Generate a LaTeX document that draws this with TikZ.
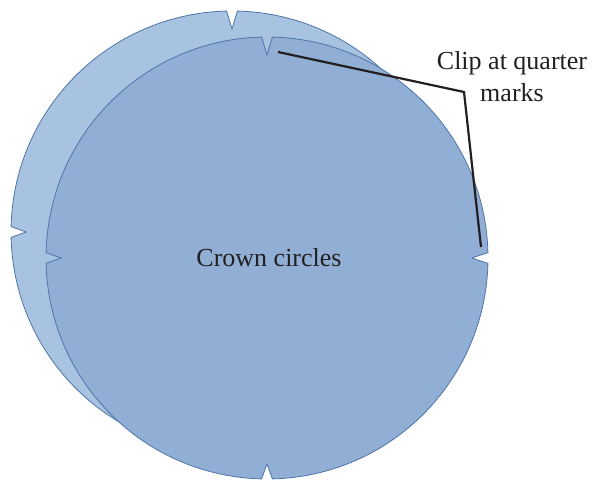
\documentclass[tikz,border=0pt]{standalone}
\usepackage{fontspec}
\setmainfont{Liberation Serif}
\definecolor{backfill}{RGB}{168,195,224}
\definecolor{frontfill}{RGB}{145,175,213}
\definecolor{rimcol}{RGB}{79,116,168}
\definecolor{inkcol}{RGB}{35,31,32}
\newcommand{\notchedcircle}[2]{%
  \path[#1,shift={#2}]
    (1.4:221pt) arc[start angle=1.4, end angle=88.6, radius=221pt]
    -- (90:203pt) -- (91.4:221pt)
    arc[start angle=91.4, end angle=178.6, radius=221pt]
    -- (180:206pt) -- (181.4:221pt)
    arc[start angle=181.4, end angle=268.6, radius=221pt]
    -- (270:206pt) -- (271.4:221pt)
    arc[start angle=271.4, end angle=358.6, radius=221pt]
    -- (0:205pt) -- cycle;}
\begin{document}
\begin{tikzpicture}[x=1pt,y=1pt,
  rim/.style={draw=rimcol,line width=0.8pt,line join=miter},
  leader/.style={draw=inkcol,line width=2.2pt,line join=miter},
  lbl/.style={text=inkcol,font=\fontsize{26}{32}\selectfont,inner sep=0pt}]
\useasboundingbox (0,0) rectangle (592,481);
\notchedcircle{rim,fill=backfill}{(232,249)}
\notchedcircle{rim,fill=frontfill}{(267,223)}
\node[lbl,anchor=base] (crown) at (269,214) {Crown circles};
\node[lbl,align=center,anchor=base] (clip) at (512,379) {Clip at quarter\\marks};
\coordinate (topmark) at (278,429);
\coordinate (bend) at (464,389);
\coordinate (rightmark) at (481,234);
\draw[leader] (topmark) -- (bend) -- (rightmark);
\end{tikzpicture}
\end{document}
